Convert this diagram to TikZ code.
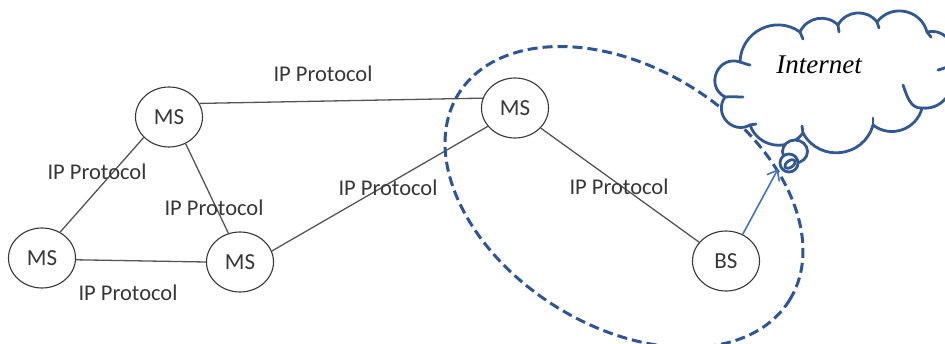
\documentclass[tikz,border=0pt]{standalone}
\usepackage{fontspec}
\setmainfont{Carlito}
\newfontfamily\cloudfont{Liberation Serif}
\usetikzlibrary{shapes.geometric,arrows.meta}
\definecolor{edgegray}{RGB}{85,85,85}
\definecolor{nodegray}{RGB}{55,55,55}
\definecolor{zoneblue}{RGB}{46,84,149}
\definecolor{cloudblue}{RGB}{50,88,146}
\definecolor{linkblue}{RGB}{68,114,196}

\begin{document}
\begin{tikzpicture}[x=1pt,y=1pt,
  station/.style={ellipse, draw=nodegray, line width=1.1pt, fill=white,
    minimum width=67pt, minimum height=60pt, inner sep=0pt, text=nodegray,
    font=\fontsize{23}{26}\selectfont},
  link/.style={draw=edgegray, line width=1.3pt},
  proto/.style={text=nodegray, inner sep=0pt, font=\fontsize{22.5}{26}\selectfont},
  zone/.style={ellipse, draw=zoneblue, line width=3pt, dash pattern=on 10pt off 5pt,
    minimum width=390pt, minimum height=258pt, inner sep=0pt},
  cloudline/.style={draw=cloudblue, line width=2.8pt, line cap=round, line join=round},
  uplink/.style={draw=linkblue, line width=1.6pt, -{Straight Barb[length=9pt,width=14pt,line width=1.6pt]}}]

\clip (0,0) rectangle (945,343);
\fill[white] (0,0) rectangle (945,343);

% stations
\node[station] (ms1) at (169,226) {MS};
\node[station] (ms2) at (42,85) {MS};
\node[station] (ms3) at (240,81) {MS};
\node[station] (ms4) at (515,235) {MS};
\node[station] (bs)  at (726,82) {BS};

% IP links
\draw[link] (ms1.24)  -- (ms4.163);
\draw[link] (ms1.219) -- (ms2.55);
\draw[link] (ms1.302) -- (ms3.112);
\draw[link] (ms2.-3)  -- (ms3.180);
\draw[link] (ms3.19)  -- (ms4.214);
\draw[link] (ms4.322) -- (bs.145);

% link labels
\node[proto] (p1) at (323,269) {IP Protocol};
\node[proto] (p2) at (97,171)  {IP Protocol};
\node[proto] (p3) at (214,135) {IP Protocol};
\node[proto] (p4) at (128,50)  {IP Protocol};
\node[proto] (p5) at (388,155) {IP Protocol};
\node[proto] (p6) at (619,156) {IP Protocol};

% cell around the gateway pair
\node[zone, rotate=-32] (cell) at (624,146) {};

% Internet cloud
\coordinate (cA) at (740,281);
\coordinate (cB) at (800,311);
\coordinate (cC) at (838,318);
\coordinate (cD) at (877,321);
\coordinate (cE) at (927,311);
\coordinate (cF) at (948,276);
\coordinate (cG) at (922,235);
\coordinate (cH) at (873,218);
\coordinate (cI) at (803,210);
\coordinate (cJ) at (750,218);
\coordinate (cK) at (725,246);
\filldraw[cloudline, fill=white]
  (cA) to[bend left=62, looseness=1.16] (cB)
       to[bend left=55, looseness=1.08] (cC)
       to[bend left=57, looseness=1.10] (cD)
       to[bend left=64, looseness=1.18] (cE)
       to[bend left=72, looseness=1.30] (cF)
       to[bend left=64, looseness=1.18] (cG)
       to[bend left=57, looseness=1.10] (cH)
       to[bend left=68, looseness=1.24] (cI)
       to[bend left=62, looseness=1.16] (cJ)
       to[bend left=77, looseness=1.39] (cK)
       to[bend left=85, looseness=1.57] (cA) -- cycle;
% inner puff stubs
\draw[cloudline] (cA) to[out=-15, in=170] ++(10,-3);
\draw[cloudline] (cB) to[out=-60, in=110] ++(3,-7);
\draw[cloudline] (cC) to[out=-85, in=95] ++(1,-7);
\draw[cloudline] (cD) to[out=-75, in=105] ++(2,-6);
\draw[cloudline] (cE) to[out=-50, in=130] ++(4,-5);
\draw[cloudline] (cF) to[out=190, in=10] ++(-10,-3);
\draw[cloudline] (cG) to[out=185, in=-70] (903,258);
\draw[cloudline] (cH) to[out=85, in=-95] ++(0,7);
\draw[cloudline] (cI) to[out=100, in=-80] ++(-1,7);
\draw[cloudline] (cJ) to[out=10, in=190] ++(6,1);
\draw[cloudline] (cK) to[out=5, in=180] ++(18,0);
\node[font=\cloudfont\itshape\fontsize{27}{30}\selectfont, text=black, inner sep=0pt] (net) at (819,278) {Internet};

% thought bubbles under the cloud
\draw[cloudline, fill=white] (795,191.5) ellipse[x radius=12.5, y radius=11.5];
\node[circle, draw=cloudblue, line width=2.8pt, fill=white, minimum size=18pt, inner sep=0pt] (bub) at (789,180) {};
\draw[cloudline, rotate around={35:(790,179)}] (790,179) ellipse[x radius=6, y radius=3.3];

% uplink to the Internet
\coordinate (gw) at (778,174);
\draw[uplink] (bs.58) -- (gw);

\end{tikzpicture}
\end{document}
